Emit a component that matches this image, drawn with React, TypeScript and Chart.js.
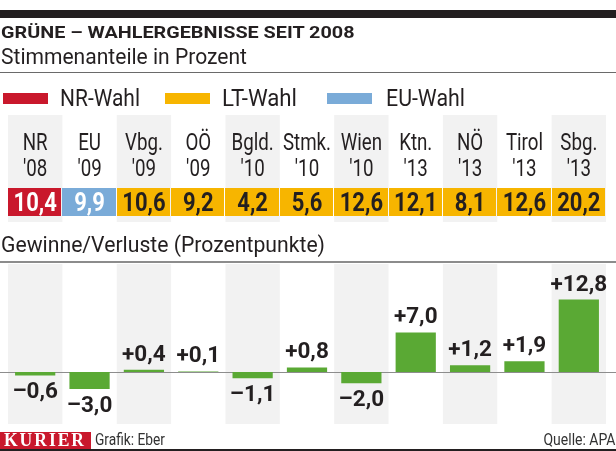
import React, { useEffect, useRef } from "react";
import { Chart, registerables } from "chart.js";

Chart.register(...registerables);

// ---------- data ----------
const regions = ["NR", "EU", "Vbg.", "OÖ", "Bgld.", "Stmk.", "Wien", "Ktn.", "NÖ", "Tirol", "Sbg."];
const years = ["'08", "'09", "'09", "'09", "'10", "'10", "'10", "'13", "'13", "'13", "'13"];
const electionTypes = ["NR", "EU", "LT", "LT", "LT", "LT", "LT", "LT", "LT", "LT", "LT"];
const voteShares = [10.4, 9.9, 10.6, 9.2, 4.2, 5.6, 12.6, 12.1, 8.1, 12.6, 20.2];
const changes = [-0.6, -3.0, 0.4, 0.1, -1.1, 0.8, -2.0, 7.0, 1.2, 1.9, 12.8];
const legendTypes = ["NR", "LT", "EU"];
const legendLabels = ["NR-Wahl", "LT-Wahl", "EU-Wahl"];
const titleText = "GRÜNE – WAHLERGEBNISSE SEIT 2008";
const subtitleText = "Stimmenanteile in Prozent";
const sectionText = "Gewinne/Verluste (Prozentpunkte)";

// ---------- styles ----------
const FONT = "Roboto, 'DejaVu Sans', sans-serif";
const SERIF = "'Liberation Serif', 'DejaVu Serif', serif";
const INK = "#231f20";
const STRIPE = "#f2f2f2";
const GREEN = "#5aa934";
const TYPE_COLORS: Record<string, string> = { NR: "#c9182c", LT: "#f7b500", EU: "#7aabd8" };
const TYPE_TEXT: Record<string, string> = { NR: "#ffffff", LT: INK, EU: "#ffffff" };
const TABLE_TOP = 115;
const TABLE_BOTTOM = 222;

const fmt = (v: number) => v.toFixed(1).replace(".", ",");
const fmtSigned = (v: number) => (v >= 0 ? "+" : "–") + fmt(Math.abs(v));

let measureCtx: CanvasRenderingContext2D | null = null;
function measure(text: string, font: string, ls = 0) {
  if (!measureCtx) measureCtx = document.createElement("canvas").getContext("2d");
  measureCtx!.font = font;
  return measureCtx!.measureText(text).width + ls * text.length;
}

function drawText(
  ctx: CanvasRenderingContext2D,
  text: string,
  cx: number,
  baseline: number,
  font: string,
  sx: number,
  color: string
) {
  ctx.save();
  ctx.font = font;
  ctx.fillStyle = color;
  ctx.textAlign = "center";
  ctx.textBaseline = "alphabetic";
  ctx.translate(cx, baseline);
  ctx.scale(sx, 1);
  ctx.fillText(text, 0, 0);
  ctx.restore();
}

type TxtProps = {
  text: string;
  x: number;
  baseline: number;
  size: number;
  weight?: number;
  width?: number;
  color?: string;
  family?: string;
  anchor?: "left" | "right";
  ls?: number;
};

function Txt({ text, x, baseline, size, weight = 400, width, color = INK, family = FONT, anchor = "left", ls = 0 }: TxtProps) {
  const font = `${weight} ${size}px ${family}`;
  const w = measure(text, font, ls);
  const sx = width ? width / w : 1;
  const style: React.CSSProperties = {
    position: "absolute",
    top: baseline - 0.842 * size,
    whiteSpace: "nowrap",
    fontFamily: family,
    fontSize: size,
    fontWeight: weight,
    lineHeight: `${size}px`,
    letterSpacing: ls,
    color,
    transform: `scaleX(${sx})`,
    transformOrigin: anchor === "left" ? "left top" : "right top",
  };
  if (anchor === "left") style.left = x;
  else style.right = 616 - x;
  return <div style={style}>{text}</div>;
}

function Box({ x, y, w, h, color }: { x: number; y: number; w: number; h: number; color: string }) {
  return <div style={{ position: "absolute", left: x, top: y, width: w, height: h, background: color }} />;
}

const tablePlugin = {
  id: "tableAndLabels",
  beforeDatasetsDraw(chart: any) {
    const { ctx, chartArea, scales } = chart;
    const xs = scales.x;
    const ys = scales.y;
    const colW = (chartArea.right - chartArea.left) / regions.length;
    ctx.save();
    ctx.fillStyle = STRIPE;
    regions.forEach((_, i) => {
      if (i % 2) return;
      const x0 = xs.getPixelForValue(i) - colW / 2;
      ctx.fillRect(x0, TABLE_TOP, colW, TABLE_BOTTOM - TABLE_TOP);
      ctx.fillRect(x0, chartArea.top, colW, chartArea.bottom - chartArea.top);
    });
    const y0 = Math.round(ys.getPixelForValue(0)) + 0.5;
    ctx.strokeStyle = "#8d8d8d";
    ctx.lineWidth = 1;
    ctx.beginPath();
    ctx.moveTo(0, y0);
    ctx.lineTo(chart.width, y0);
    ctx.stroke();
    regions.forEach((r, i) => {
      const cx = xs.getPixelForValue(i);
      drawText(ctx, r, cx, 150, `400 24px ${FONT}`, 0.78, INK);
      drawText(ctx, years[i], cx, 176, `400 24px ${FONT}`, 0.78, INK);
      ctx.fillStyle = TYPE_COLORS[electionTypes[i]];
      const left = Math.round(cx - colW / 2);
      const right = Math.round(cx + colW / 2) - 1;
      ctx.fillRect(left, 188, right - left, 28);
      drawText(ctx, fmt(voteShares[i]), cx, 210.5, `700 25px ${FONT}`, 0.88, TYPE_TEXT[electionTypes[i]]);
    });
    ctx.restore();
  },
  afterDatasetsDraw(chart: any) {
    const { ctx } = chart;
    const meta = chart.getDatasetMeta(0);
    meta.data.forEach((bar: any, i: number) => {
      const v = changes[i];
      const y = v >= 0 ? bar.y - 9 : bar.y + 23;
      drawText(ctx, fmtSigned(v), bar.x, y, `700 22.5px ${FONT}`, 1.0, INK);
    });
  },
};

function BarCanvas() {
  const ref = useRef<HTMLCanvasElement>(null);
  useEffect(() => {
    if (!ref.current) return;
    const chart = new Chart(ref.current, {
      type: "bar",
      data: {
        labels: regions,
        datasets: [
          {
            data: changes,
            backgroundColor: GREEN,
            borderWidth: 0,
            categoryPercentage: 1,
            barPercentage: 0.74,
          },
        ],
      },
      options: {
        responsive: false,
        animation: false,
        devicePixelRatio: 1,
        layout: { padding: { top: 264, bottom: 27, left: 8, right: 10 } },
        plugins: { legend: { display: false }, tooltip: { enabled: false }, title: { display: false } },
        scales: {
          x: { display: false, offset: true },
          y: { display: false, min: -9.2, max: 19.1 },
        },
      },
      plugins: [tablePlugin],
    });
    return () => chart.destroy();
  }, []);
  return <canvas ref={ref} width={616} height={451} style={{ position: "absolute", left: 0, top: 0 }} />;
}

export default function App() {
  const swatchX = [3, 165, 327];
  const legendX = [60, 222, 386];
  const legendW = [80, 75, 79];
  return (
    <div style={{ position: "absolute", left: 0, top: 0, width: 616, height: 451, overflow: "hidden", background: "#fff" }}>
      <BarCanvas />
      <Box x={0} y={10} w={616} h={8} color={INK} />
      <Txt text={titleText} x={1} baseline={38.5} size={17} weight={700} width={354} />
      <Txt text={subtitleText} x={1} baseline={65} size={22} width={246} />
      <Box x={0} y={72} w={616} h={1} color="#6a6a6a" />
      {legendTypes.map((t, i) => (
        <React.Fragment key={t}>
          <Box x={swatchX[i]} y={93} w={45} h={11} color={TYPE_COLORS[t]} />
          <Txt text={legendLabels[i]} x={legendX[i]} baseline={106.5} size={24} width={legendW[i]} />
        </React.Fragment>
      ))}
      <Txt text={sectionText} x={1} baseline={253} size={22} width={324} />
      <Box x={0} y={261} w={616} h={2} color="#8c8c8c" />
      <Box x={0} y={432} w={91} h={17} color={TYPE_COLORS.NR} />
      <Txt text="KURIER" x={4} baseline={446} size={18} weight={700} family={SERIF} color="#ffffff" width={82} ls={2} />
      <Txt text="Grafik: Eber" x={95} baseline={445.5} size={17} width={70} color="#333" />
      <Txt text="Quelle: APA" x={615} baseline={445.5} size={17} width={72} anchor="right" color="#333" />
      <Box x={0} y={449} w={616} h={2} color={INK} />
    </div>
  );
}
